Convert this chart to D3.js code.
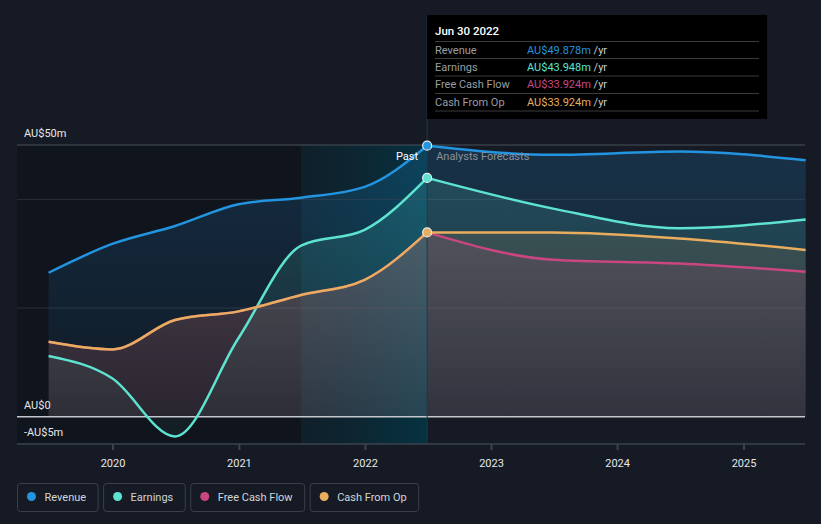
<!DOCTYPE html>
<html>
<head>
<meta charset="utf-8">
<script src="https://cdn.jsdelivr.net/npm/d3@7"></script>
<style>
  html, body { margin: 0; padding: 0; background: #151a24; }
  svg { display: block; font-family: Roboto, "Noto Sans", sans-serif; }
</style>
</head>
<body>
<svg id="chart" width="821" height="524"></svg>
<script>
// ---------- data ----------
const pastDates = ["2019-06-30","2019-12-31","2020-06-30","2020-12-31","2021-06-30","2021-12-31","2022-06-30"];
const forecastDates = ["2022-06-30","2023-06-30","2024-06-30","2025-06-30"];

const revenuePast = [26.5, 31.8, 35.1, 39.1, 40.3, 42.3, 49.878];
const earningsPast = [11.2, 7.1, -3.6, 14.5, 31.5, 34.4, 43.948];
const fcfPast = [13.8, 12.4, 17.8, 19.4, 22.4, 25.2, 33.924];
const cfoPast = [13.8, 12.4, 17.8, 19.4, 22.4, 25.2, 33.924];

const revenueForecast = [49.878, 48.2, 48.8, 47.2];
const earningsForecast = [43.948, 38.3, 34.7, 36.3];
const fcfForecast = [33.924, 28.9, 28.2, 26.7];
const cfoForecast = [33.924, 33.9, 32.8, 30.7];

const yearTicks = [2020, 2021, 2022, 2023, 2024, 2025];
const yTickValues = [50, 0, -5];
const yTickLabels = ["AU$50m", "AU$0", "-AU$5m"];
const gridValues = [40, 20];

const seriesNames = ["Revenue", "Earnings", "Free Cash Flow", "Cash From Op"];
const seriesColors = ["#2394df", "#5de3cf", "#c94680", "#e8ad5e"];
const tooltipTitle = "Jun 30 2022";
const tooltipValues = ["AU$49.878m", "AU$43.948m", "AU$33.924m", "AU$33.924m"];
const highlightStart = "2021-06-30";
const splitDate = "2022-06-30";

// ---------- setup ----------
const parse = d3.timeParse("%Y-%m-%d");
const svg = d3.select("#chart");

const x = d3.scaleTime()
  .domain([new Date(2020, 0, 1), new Date(2025, 0, 1)])
  .range([112.5, 743.5]);
const y = d3.scaleLinear().domain([-5, 50]).range([444, 145]);

const left = 17, right = 805;
const xSplit = x(parse(splitDate));
const xHi = x(parse(highlightStart));

const defs = svg.append("defs");

// past overlay (dark)
svg.append("rect")
  .attr("x", left).attr("y", y(50))
  .attr("width", xHi - left).attr("height", y(-5) - y(50))
  .attr("fill", "#000").attr("fill-opacity", 0.2);

// highlight band gradient
const hg = defs.append("linearGradient").attr("id", "hiGrad")
  .attr("x1", 0).attr("x2", 1).attr("y1", 0).attr("y2", 0);
hg.append("stop").attr("offset", 0).attr("stop-color", "#0b2530").attr("stop-opacity", 0.5);
hg.append("stop").attr("offset", 1).attr("stop-color", "#063241").attr("stop-opacity", 1);
svg.append("rect")
  .attr("x", xHi).attr("y", y(50))
  .attr("width", xSplit - xHi).attr("height", y(-5) - y(50))
  .attr("fill", "url(#hiGrad)");

// gridlines
svg.selectAll(".grid").data(gridValues).enter().append("line")
  .attr("x1", left).attr("x2", right)
  .attr("y1", d => y(d)).attr("y2", d => y(d))
  .attr("stroke", "#2a303b").attr("stroke-width", 1);
svg.append("line").attr("x1", left).attr("x2", right)
  .attr("y1", y(50)).attr("y2", y(50))
  .attr("stroke", "#4a505b").attr("stroke-width", 1);

// build series
function mk(dates, vals) { return dates.map((d, i) => ({ date: parse(d), v: vals[i] })); }
const series = [
  { past: mk(pastDates, revenuePast), fc: mk(forecastDates, revenueForecast) },
  { past: mk(pastDates, earningsPast), fc: mk(forecastDates, earningsForecast) },
  { past: mk(pastDates, fcfPast), fc: mk(forecastDates, fcfForecast) },
  { past: mk(pastDates, cfoPast), fc: mk(forecastDates, cfoForecast) }
];

const line = d3.line().x(d => x(d.date)).y(d => y(d.v)).curve(d3.curveMonotoneX);
const area = d3.area().x(d => x(d.date)).y0(y(0)).y1(d => y(d.v)).curve(d3.curveMonotoneX);

const fillOps = [[0.19, 0.05], [0.17, 0.05], [0.2, 0.08], [0.16, 0.05]];
series.forEach((s, i) => {
  const g = defs.append("linearGradient").attr("id", "ag" + i)
    .attr("gradientUnits", "userSpaceOnUse")
    .attr("x1", 0).attr("x2", 0).attr("y1", y(50)).attr("y2", y(0));
  g.append("stop").attr("offset", 0).attr("stop-color", seriesColors[i]).attr("stop-opacity", fillOps[i][0]);
  g.append("stop").attr("offset", 1).attr("stop-color", seriesColors[i]).attr("stop-opacity", fillOps[i][1]);
});
series.forEach((s, i) => {
  svg.append("path").attr("d", area(s.past)).attr("fill", "url(#ag" + i + ")");
  svg.append("path").attr("d", area(s.fc)).attr("fill", "url(#ag" + i + ")");
});

// zero line
svg.append("line").attr("x1", left).attr("x2", right)
  .attr("y1", y(0)).attr("y2", y(0))
  .attr("stroke", "#c4c8cc").attr("stroke-width", 1.5);

// split vertical line
svg.append("line").attr("x1", xSplit).attr("x2", xSplit)
  .attr("y1", 15).attr("y2", y(-5))
  .attr("stroke", "#1d3a48").attr("stroke-width", 1);

// lines (orange drawn last so it covers pink in the past)
[0, 1, 2, 3].forEach(i => {
  const s = series[i];
  svg.append("path").attr("d", line(s.fc)).attr("fill", "none")
    .attr("stroke", seriesColors[i]).attr("stroke-width", 2.5);
  svg.append("path").attr("d", line(s.past)).attr("fill", "none")
    .attr("stroke", seriesColors[i]).attr("stroke-width", 2.5);
});

// x axis
const xAxis = d3.axisBottom(x)
  .tickValues(yearTicks.map(t => new Date(t, 0, 1)))
  .tickFormat(d3.timeFormat("%Y"))
  .tickSize(6).tickSizeOuter(0);
const xg = svg.append("g").attr("transform", `translate(0,${y(-5)})`).call(xAxis);
xg.select(".domain").remove();
xg.selectAll(".tick line").attr("stroke", "#3d434e").attr("stroke-width", 2);
xg.selectAll(".tick text").attr("fill", "#e6e8ea").attr("font-size", 11).attr("dy", "1.25em")
  .attr("font-family", "Roboto, sans-serif");
svg.append("line").attr("x1", left).attr("x2", right)
  .attr("y1", y(-5)).attr("y2", y(-5))
  .attr("stroke", "#3d434e").attr("stroke-width", 1.5);

// y labels
svg.selectAll(".ylab").data(yTickValues).enter().append("text")
  .attr("x", 24).attr("y", d => y(d) - 8)
  .attr("fill", "#e6e8ea").attr("font-size", 11)
  .text((d, i) => yTickLabels[i]);

// markers at split
[0, 1, 3].forEach(i => {
  const last = series[i].past[series[i].past.length - 1];
  svg.append("circle").attr("cx", x(last.date)).attr("cy", y(last.v)).attr("r", 4.5)
    .attr("fill", seriesColors[i]).attr("stroke", "#e8eef2").attr("stroke-width", 1.2);
});

// Past / Analysts Forecasts labels
svg.append("text").attr("x", xSplit - 9).attr("y", 160).attr("text-anchor", "end")
  .attr("fill", "#ffffff").attr("font-size", 11).text("Past");
svg.append("text").attr("x", xSplit + 9).attr("y", 160)
  .attr("fill", "#8b9199").attr("font-size", 11).text("Analysts Forecasts");

// tooltip
const tt = svg.append("g");
tt.append("rect").attr("x", xSplit).attr("y", 15).attr("width", 340).attr("height", 104)
  .attr("fill", "#000000");
tt.append("text").attr("x", 435).attr("y", 35).attr("fill", "#ffffff")
  .attr("font-size", 11.5).attr("font-weight", 500).text(tooltipTitle);
const sepYs = [41.5, 58.5, 76, 93.5, 111];
sepYs.forEach(sy => tt.append("line").attr("x1", 435).attr("x2", 759)
  .attr("y1", sy).attr("y2", sy).attr("stroke", "#3a3a3a").attr("stroke-width", 1));
seriesNames.forEach((n, i) => {
  const by = sepYs[i] + 12;
  tt.append("text").attr("x", 435).attr("y", by).attr("fill", "#9a9ea4")
    .attr("font-size", 11).text(n);
  const t = tt.append("text").attr("x", 527).attr("y", by).attr("font-size", 11);
  t.append("tspan").attr("fill", seriesColors[i]).text(tooltipValues[i]);
  t.append("tspan").attr("fill", "#c8ccd0").text(" /yr");
});

// legend
let lx = 17;
seriesNames.forEach((n, i) => {
  const g = svg.append("g");
  const txt = g.append("text").attr("x", lx + 27.5).attr("y", 501)
    .attr("fill", "#d2d6da").attr("font-size", 11).text(n);
  const w = txt.node().getComputedTextLength() + 27.5 + 11.5;
  g.insert("rect", "text").attr("x", lx + 0.5).attr("y", 483.5).attr("width", w).attr("height", 28)
    .attr("rx", 3).attr("fill", "none").attr("stroke", "#3a3f49").attr("stroke-width", 1);
  g.append("circle").attr("cx", lx + 14.5).attr("cy", 496.5).attr("r", 4.5).attr("fill", seriesColors[i]);
  lx += w + 5.5;
});
</script>
</body>
</html>
